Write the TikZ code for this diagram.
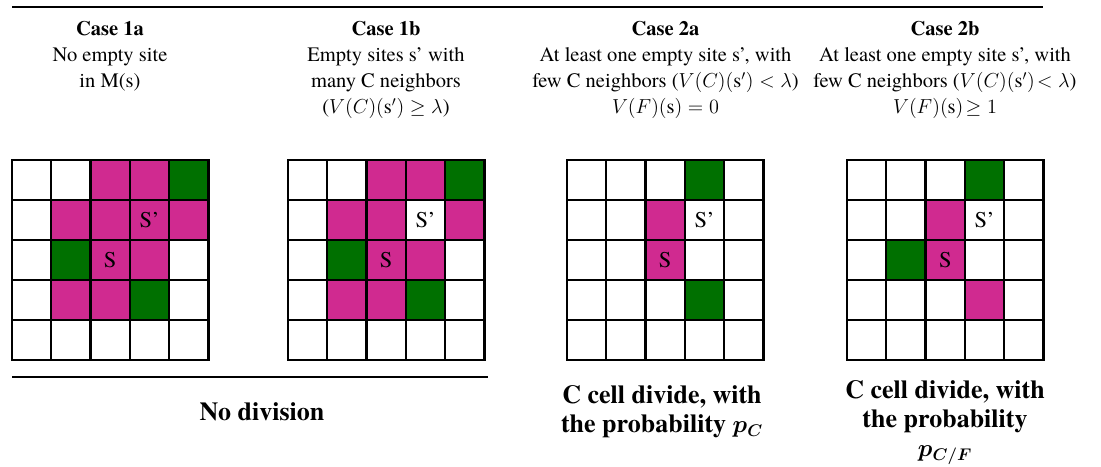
\documentclass[tikz,border=0pt]{standalone}
\usepackage{amsmath,amssymb}
\usepackage{fontspec}
\setmainfont{texgyretermes}[Extension=.otf, UprightFont=*-regular, BoldFont=*-bold,
  ItalicFont=*-italic, BoldItalicFont=*-bolditalic]
\usepackage{tikz}
\usetikzlibrary{positioning}
\definecolor{cmag}{RGB}{208,42,144}
\definecolor{cgreen}{RGB}{0,112,0}

\begin{document}
\begin{tikzpicture}[
    x=0.025cm, y=-0.025cm,
    head/.style={anchor=north, inner sep=0pt, align=center, font=\fontsize{14.6}{18.6}\selectfont},
    result/.style={anchor=north, inner sep=0pt, align=center, font=\fontsize{18.5}{20.8}\selectfont\bfseries},
    gl/.style={line width=1.6pt, line cap=rect},
    mag/.style={fill=cmag},
    grn/.style={fill=cgreen},
    celltext/.style={inner sep=0pt, font=\fontsize{16}{17}\selectfont},
]
\useasboundingbox (0,0) rectangle (1101,467);

% Rules above and below
\draw[line width=2pt] (12,7) -- (1043,7);
\draw[line width=0.9pt] (12,377) -- (488,377);

% Case headers
\node[head] (h1a) at (110,21) {\textbf{Case 1a}\\No empty site\\in M(s)};
\node[head] (h1b) at (386,21) {\textbf{Case 1b}\\Empty sites s’ with\\many C neighbors\\($V(C)(\mathrm{s}')\geq\lambda$)};
\node[head] (h2a) at (665.5,21) {\textbf{Case 2a}\\At least one empty site s’, with\\few C neighbors ($V(C)(\mathrm{s}')<\lambda$)\\$V(F)(\mathrm{s})=0$};
\node[head] (h2b) at (945,21) {\textbf{Case 2b}\\At least one empty site s’, with\\few C neighbors ($V(C)(\mathrm{s}')\!<\lambda$)\\$V(F)(\mathrm{s})\!\geq 1$};

% Case 1a lattice
\begin{scope}[shift={(12,160)}]
  \foreach \c/\r in {3/1,4/1,2/2,3/2,4/2,5/2,3/3,4/3,2/4,3/4}
    \fill[mag] ({(\c-1)*39.3},{(\r-1)*40}) rectangle ++(39.3,40);
  \foreach \c/\r in {5/1,2/3,4/4}
    \fill[grn] ({(\c-1)*39.3},{(\r-1)*40}) rectangle ++(39.3,40);
  \foreach \i in {0,...,5} {
    \draw[gl] ({\i*39.3},0) -- ({\i*39.3},200);
    \draw[gl] (0,{\i*40}) -- (196.5,{\i*40});
  }
  \node[celltext] (s1a) at (98.25,100) {S};
  \node[celltext] (sp1a) at (137.55,60) {S’};
\end{scope}

% Case 1b lattice
\begin{scope}[shift={(288,160)}]
  \foreach \c/\r in {3/1,4/1,2/2,3/2,5/2,3/3,4/3,2/4,3/4}
    \fill[mag] ({(\c-1)*39.3},{(\r-1)*40}) rectangle ++(39.3,40);
  \foreach \c/\r in {5/1,2/3,4/4}
    \fill[grn] ({(\c-1)*39.3},{(\r-1)*40}) rectangle ++(39.3,40);
  \foreach \i in {0,...,5} {
    \draw[gl] ({\i*39.3},0) -- ({\i*39.3},200);
    \draw[gl] (0,{\i*40}) -- (196.5,{\i*40});
  }
  \node[celltext] (s1b) at (98.25,100) {S};
  \node[celltext] (sp1b) at (137.55,60) {S’};
\end{scope}

% Case 2a lattice
\begin{scope}[shift={(567,160)}]
  \foreach \c/\r in {3/2,3/3}
    \fill[mag] ({(\c-1)*39.3},{(\r-1)*40}) rectangle ++(39.3,40);
  \foreach \c/\r in {4/1,4/4}
    \fill[grn] ({(\c-1)*39.3},{(\r-1)*40}) rectangle ++(39.3,40);
  \foreach \i in {0,...,5} {
    \draw[gl] ({\i*39.3},0) -- ({\i*39.3},200);
    \draw[gl] (0,{\i*40}) -- (196.5,{\i*40});
  }
  \node[celltext] (s2a) at (98.25,100) {S};
  \node[celltext] (sp2a) at (137.55,60) {S’};
\end{scope}

% Case 2b lattice
\begin{scope}[shift={(847,160)}]
  \foreach \c/\r in {3/2,3/3,4/4}
    \fill[mag] ({(\c-1)*39.3},{(\r-1)*40}) rectangle ++(39.3,40);
  \foreach \c/\r in {4/1,2/3}
    \fill[grn] ({(\c-1)*39.3},{(\r-1)*40}) rectangle ++(39.3,40);
  \foreach \i in {0,...,5} {
    \draw[gl] ({\i*39.3},0) -- ({\i*39.3},200);
    \draw[gl] (0,{\i*40}) -- (196.5,{\i*40});
  }
  \node[celltext] (s2b) at (98.25,100) {S};
  \node[celltext] (sp2b) at (137.55,60) {S’};
\end{scope}

% Outcomes
\node[result] (r1) at (262,402) {No division};
\node[result] (r2a) at (662,385) {C cell divide, with\\the probability {\boldmath$p_C$}};
\node[result] (r2b) at (945,380) {C cell divide, with\\the probability\\{\boldmath$p_{C/F}$}};
\end{tikzpicture}
\end{document}
